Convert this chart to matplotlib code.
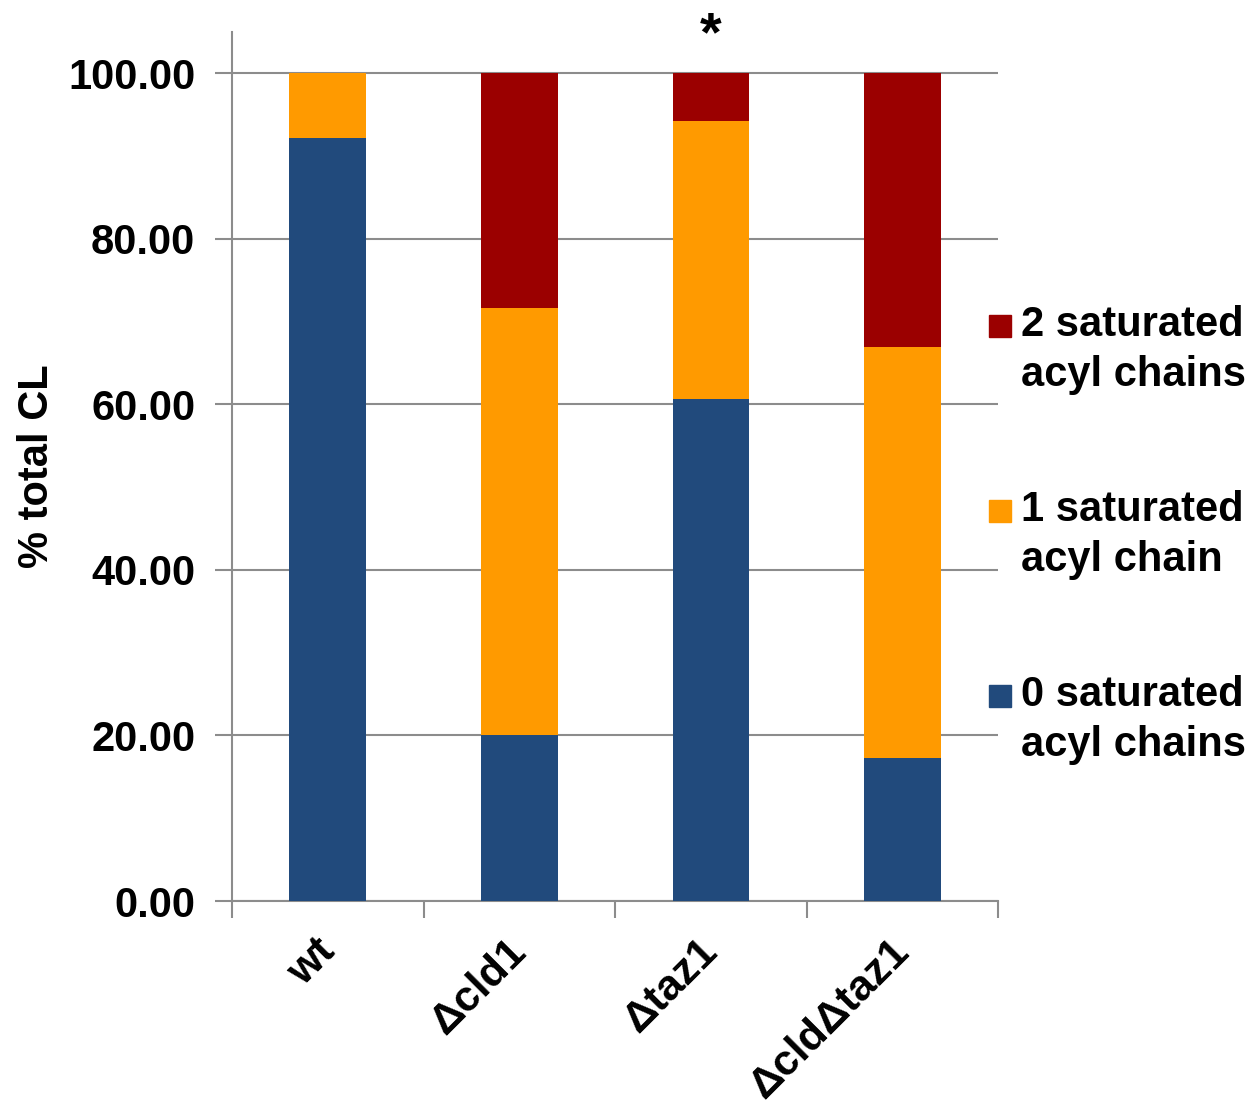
import numpy as np
import matplotlib
matplotlib.use("Agg")
import matplotlib.pyplot as plt
import matplotlib.transforms as mtransforms
from matplotlib.patches import Rectangle

plt.rcParams['font.family'] = ['Liberation Sans', 'DejaVu Sans']
plt.rcParams['font.weight'] = 'bold'

# data (% of total CL)
strains = ["wt", "\u0394cld1", "\u0394taz1", "\u0394cld\u0394taz1"]
sat0 = [92.2, 20.1, 60.6, 17.3]
sat1 = [7.8, 51.5, 33.6, 49.7]
sat2 = [0.0, 28.4, 5.8, 33.0]
series_labels = ["0 saturated\nacyl chains", "1 saturated\nacyl chain", "2 saturated\nacyl chains"]
colors = ["#214a7c", "#ff9a00", "#9b0000"]
yticks = [0, 20, 40, 60, 80, 100]

fig = plt.figure(figsize=(12.57, 11), dpi=100)
ax = fig.add_axes([0.1846, 0.1809, 0.6094, 0.79])

x = np.arange(len(strains))
bottom = np.zeros(len(strains))
for vals, c in zip([sat0, sat1, sat2], colors):
    ax.bar(x, vals, width=0.4, bottom=bottom, color=c, zorder=3)
    bottom = bottom + np.array(vals)

ax.set_xlim(-0.5, len(strains) - 0.5)
ax.set_ylim(0, 105)
ax.set_yticks(yticks)
ax.set_yticklabels(["%.2f" % v for v in yticks], fontsize=30, fontweight='bold')
ax.yaxis.grid(True, color='#8c8c8c', linewidth=1.5, zorder=0)
ax.tick_params(axis='y', length=12, width=1.5, color='#8c8c8c', pad=14.5)

ax.set_xticks(np.arange(len(strains) + 1) - 0.5)
ax.set_xticklabels([])
ax.tick_params(axis='x', which='major', length=12, width=1.5, color='#8c8c8c')
ax.set_xticks(x, minor=True)
ax.set_xticklabels(strains, minor=True, rotation=45, ha='right', fontsize=31, fontweight='bold')
ax.tick_params(axis='x', which='minor', length=0, pad=22)
off = mtransforms.ScaledTranslation(15 / 100, 0, fig.dpi_scale_trans)
for lbl in ax.get_xticklabels(minor=True):
    lbl.set_transform(lbl.get_transform() + off)

for s in ['top', 'right']:
    ax.spines[s].set_visible(False)
for s in ['left', 'bottom']:
    ax.spines[s].set_color('#8c8c8c')
    ax.spines[s].set_linewidth(1.5)

ax.set_ylabel("% total CL", fontsize=30, fontweight='bold', labelpad=8)

# significance star over Δtaz1
ax.text(2, 102.8, "*", ha='center', va='baseline', fontsize=40, fontweight='bold')

# legend, handles aligned with first text line
leg_y = [720, 535, 350]  # centres in pixels from top
for lab, c, yc in zip(series_labels, colors, leg_y):
    fy = 1 - (yc - 24) / 1100
    fig.patches.append(Rectangle((989 / 1257, fy - 11 / 1100), 22 / 1257, 22 / 1100,
                                 transform=fig.transFigure, color=c))
    fig.text(1021 / 1257, 1 - yc / 1100, lab, fontsize=30, fontweight='bold',
             ha='left', va='center', linespacing=1.31)

fig.savefig("out.png", dpi=100)
